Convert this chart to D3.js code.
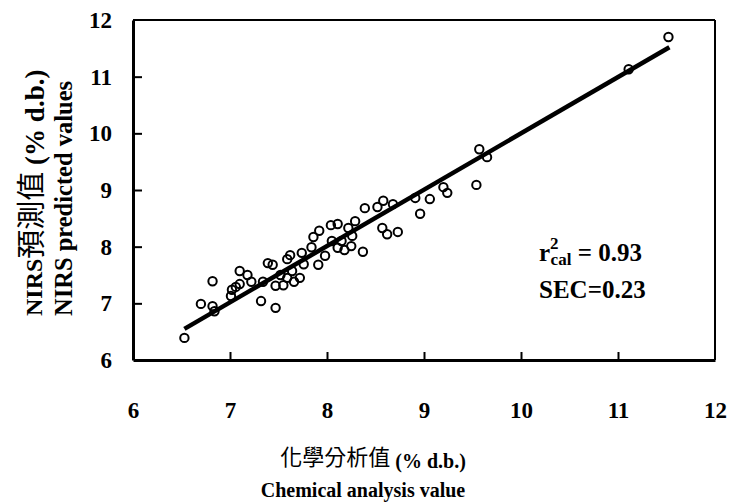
<!DOCTYPE html>
<html>
<head>
<meta charset="utf-8">
<script src="https://cdn.jsdelivr.net/npm/d3@7"></script>
<style>
  body { margin: 0; background: #fff; }
  text { font-family: "Liberation Serif", "Times New Roman", serif; font-weight: bold; fill: #000; }
  .cjk { font-family: "Noto Sans CJK TC", sans-serif; font-weight: normal; }
</style>
</head>
<body>
<svg id="chart" width="730" height="504"></svg>
<script>
// chemical analysis value (x) vs NIRS predicted value (y)
var chemX = [6.53, 6.70, 6.82, 6.82, 6.84, 7.01, 7.02, 7.06, 7.10, 7.10,
             7.18, 7.22, 7.32, 7.34, 7.39, 7.44, 7.47, 7.47, 7.55, 7.52,
             7.59, 7.62, 7.59, 7.66, 7.72, 7.64, 7.74, 7.76, 7.84, 7.86,
             7.91, 7.92, 7.98, 8.04, 8.11, 8.05, 8.11, 8.18, 8.15, 8.22,
             8.25, 8.29, 8.26, 8.37, 8.39, 8.52, 8.58, 8.57, 8.62, 8.73,
             8.68, 8.91, 8.96, 9.06, 9.20, 9.24, 9.54, 9.57, 9.65, 11.11,
             11.52];
var nirsY = [6.39, 6.99, 7.39, 6.95, 6.86, 7.13, 7.24, 7.29, 7.57, 7.34,
             7.50, 7.38, 7.04, 7.38, 7.71, 7.68, 6.92, 7.31, 7.32, 7.50,
             7.78, 7.85, 7.45, 7.38, 7.45, 7.57, 7.89, 7.69, 7.99, 8.17,
             7.68, 8.28, 7.84, 8.38, 8.40, 8.10, 7.98, 7.94, 8.10, 8.33,
             8.01, 8.45, 8.19, 7.91, 8.68, 8.70, 8.81, 8.33, 8.22, 8.26,
             8.75, 8.86, 8.58, 8.84, 9.05, 8.95, 9.09, 9.72, 9.58, 11.13,
             11.70];
// calibration line end points
var fitX = [6.53, 11.53];
var fitY = [6.55, 11.52];
var xTicks = [6, 7, 8, 9, 10, 11, 12];
var yTicks = [6, 7, 8, 9, 10, 11, 12];

var svg = d3.select("#chart");
var margin = {top: 20, right: 15, bottom: 144, left: 133},
    width = 730 - margin.left - margin.right,
    height = 504 - margin.top - margin.bottom;

var x = d3.scaleLinear().domain([6, 12]).range([0, width]);
var y = d3.scaleLinear().domain([6, 12]).range([height, 0]);

var g = svg.append("g")
    .attr("transform", "translate(" + margin.left + "," + margin.top + ")");

// frame (top/right thinner)
g.append("line").attr("x1", 0).attr("x2", width).attr("y1", 0).attr("y2", 0)
  .attr("stroke", "#000").attr("stroke-width", 2);
g.append("line").attr("x1", width).attr("x2", width).attr("y1", 0).attr("y2", height)
  .attr("stroke", "#000").attr("stroke-width", 2);

// x axis, ticks pointing inwards
var xAxis = g.append("g")
    .attr("transform", "translate(0," + height + ")")
    .call(d3.axisBottom(x).tickValues(xTicks).tickFormat(d3.format("d"))
      .tickSizeInner(-8).tickSizeOuter(0).tickPadding(42));
xAxis.select(".domain").attr("stroke-width", 3);
xAxis.selectAll(".tick line").attr("stroke-width", 2);
xAxis.selectAll(".tick text").attr("font-size", 23).attr("font-family", null);

// y axis
var yAxis = g.append("g")
    .call(d3.axisLeft(y).tickValues(yTicks).tickFormat(d3.format("d"))
      .tickSizeInner(-9).tickSizeOuter(0).tickPadding(21));
yAxis.select(".domain").attr("stroke-width", 3);
yAxis.selectAll(".tick line").attr("stroke-width", 2);
yAxis.selectAll(".tick text").attr("font-size", 23).attr("font-family", null);

// remove the tick marks at the frame corners
xAxis.selectAll(".tick line").filter(function(d) { return d == 6 || d == 12; }).remove();
yAxis.selectAll(".tick line").filter(function(d) { return d == 6 || d == 12; }).remove();

// regression line
var line = d3.line()
    .x(function(d) { return x(d[0]); })
    .y(function(d) { return y(d[1]); });
g.append("path")
    .datum(d3.zip(fitX, fitY))
    .attr("d", line)
    .attr("fill", "none")
    .attr("stroke", "#000")
    .attr("stroke-width", 4.5);

// points
g.selectAll("circle.pt")
    .data(d3.zip(chemX, nirsY))
  .enter().append("circle")
    .attr("class", "pt")
    .attr("cx", function(d) { return x(d[0]); })
    .attr("cy", function(d) { return y(d[1]); })
    .attr("r", 4.2)
    .attr("fill", "none")
    .attr("stroke", "#000")
    .attr("stroke-width", 2);

// stats text
var t1 = svg.append("text").attr("x", 539).attr("y", 261).attr("font-size", 25);
t1.append("tspan").text("r");
t1.append("tspan").attr("font-size", 17).attr("dy", -12).text("2");
t1.append("tspan").attr("font-size", 17).attr("dx", -8).attr("dy", 16).text("cal");
t1.append("tspan").attr("dy", -4).text(" = 0.93");
svg.append("text").attr("x", 539).attr("y", 298).attr("font-size", 25)
    .text("SEC=0.23");

// x title
var xt = svg.append("text").attr("x", 373).attr("y", 465).attr("text-anchor", "middle");
xt.append("tspan").attr("class", "cjk").attr("font-size", 22).text("化學分析值");
xt.append("tspan").attr("font-size", 20).attr("dy", 3).text(" (% d.b.)");
svg.append("text").attr("x", 363).attr("y", 497).attr("text-anchor", "middle")
    .attr("font-size", 20).text("Chemical analysis value");

// y title, two rotated lines
var yt = svg.append("text").attr("transform", "translate(42,316) rotate(-90)");
yt.append("tspan").attr("font-size", 24).text("NIRS");
yt.append("tspan").attr("class", "cjk").attr("font-size", 29).text("預測值");
yt.append("tspan").attr("font-size", 27).attr("dy", 2).text(" (% d.b.)");
svg.append("text").attr("transform", "translate(72,316) rotate(-90)")
    .attr("font-size", 24.5).text("NIRS predicted values");
</script>
</body>
</html>
